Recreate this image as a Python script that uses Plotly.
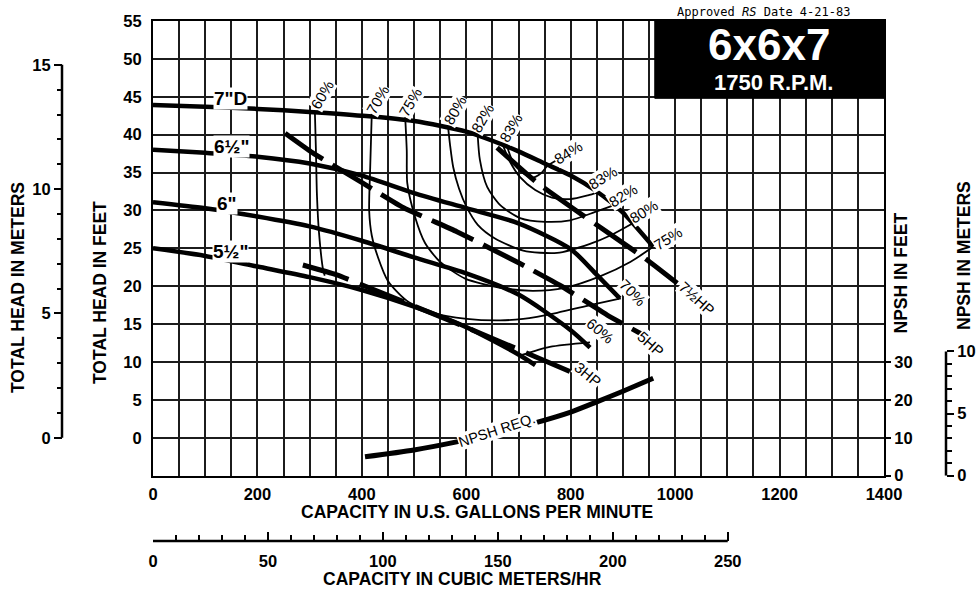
import plotly.graph_objects as go

# ---------------- data ----------------
GPM_PER_M3H = 4.402868
FT_PER_M = 3.28084

# impeller head curves: capacity (US gpm) vs total head (ft)
q_7d = [0, 100, 200, 300, 400, 500, 600, 650, 700, 750, 800, 850, 900, 958]
h_7d = [43.9, 43.7, 43.4, 43.0, 42.5, 41.8, 40.4, 39.2, 37.8, 36.2, 34.6, 32.5, 29.7, 25.2]
q_6h = [0, 100, 200, 300, 400, 500, 600, 700, 800, 850, 894]
h_6h = [38.0, 37.6, 37.1, 36.2, 34.6, 32.3, 30.3, 28.3, 24.9, 21.5, 18.4]
q_6 = [0, 100, 200, 300, 400, 500, 600, 700, 800, 837]
h_6 = [31.1, 30.3, 29.2, 27.9, 26.0, 23.8, 21.7, 18.9, 14.2, 11.9]
q_5h = [0, 100, 200, 300, 400, 500, 600, 700, 732]
h_5h = [25.0, 24.0, 22.6, 21.2, 19.5, 17.3, 14.6, 11.0, 9.6]

# efficiency contours
q_e60a = [310, 312, 314, 318, 326, 329]
h_e60a = [43.1, 38.0, 32.0, 27.0, 22.1, 21.4]
q_e60b = [705, 760, 837]
h_e60b = [10.9, 12.0, 12.6]
q_e70 = [419, 416, 414, 419, 431, 450, 486, 536, 601, 665, 709, 774, 837, 896]
h_e70 = [42.8, 35.7, 30.0, 26.7, 23.8, 20.7, 18.1, 16.5, 15.7, 15.5, 15.7, 16.5, 17.5, 18.4]
q_e75 = [483, 486, 487, 502, 521, 550, 598, 665, 728, 789, 856, 914, 958]
h_e75 = [42.3, 37.9, 33.6, 29.1, 25.7, 23.2, 21.0, 19.8, 19.4, 19.8, 21.3, 23.2, 25.2]
q_e80 = [565, 569, 575, 586, 601, 622, 655, 709, 774, 837, 879, 919]
h_e80 = [41.1, 38.6, 35.7, 32.9, 30.4, 28.1, 26.3, 24.7, 24.4, 25.6, 26.8, 28.3]
q_e82 = [622, 626, 640, 665, 703, 751, 799, 847, 883]
h_e82 = [39.8, 36.7, 33.1, 30.7, 29.0, 28.5, 28.7, 29.8, 30.7]
q_e83 = [670, 684, 703, 732, 764, 799, 833, 852]
h_e83 = [38.6, 36.4, 34.4, 32.7, 31.7, 31.5, 32.0, 32.4]
q_e84 = [678, 688, 705, 726, 743, 755]
h_e84 = [38.5, 36.6, 35.1, 34.3, 34.9, 35.9]
q_lead84 = [755, 772]
h_lead84 = [35.9, 36.6]

# brake horsepower lines
q_3hp = [287, 352, 439, 620, 824]
h_3hp = [22.8, 21.5, 19.1, 14.0, 8.0]
q_5hp = [253, 306, 402, 479, 582, 703, 780, 870, 946]
h_5hp = [40.2, 37.6, 33.6, 30.4, 27.2, 23.0, 20.1, 16.2, 13.3]
q_7hp = [659, 735, 837, 942, 1004]
h_7hp = [38.3, 33.7, 28.7, 23.7, 20.4]

# NPSH required (ft)
q_npsh = [406, 500, 584, 650, 728, 800, 850, 900, 958]
npsh_ft = [5.0, 6.8, 9.0, 11.0, 13.8, 16.8, 19.5, 22.3, 25.7]

# axis ticks
gpm_ticks = list(range(0, 1401, 200))
ft_ticks = list(range(0, 56, 5))
m_ticks = [0, 5, 10, 15]
m_minor = [v for v in range(1, 15) if v % 5]
npsh_ft_ticks = [0, 10, 20, 30]
npsh_m_ticks = [0, 5, 10]
npsh_m_minor = [v for v in range(1, 10) if v != 5]
m3h_ticks = list(range(0, 251, 50))
m3h_minor = [v for v in range(10, 250, 10) if v % 50]

# ---------------- layout geometry ----------------
W, H = 976, 592
ML, MR, MT, MB = 10, 10, 21, 10
PW, PH = W - ML - MR, H - MT - MB


def px(xp):
    return (xp - ML) / PW


def py(yp):
    return (H - MB - yp) / PH


XD = [px(153), px(884)]
YD = [py(475.7), 1.0]
GRID = '#1c1c1c'
FONT = 'Liberation Sans, Arial, sans-serif'

fig = go.Figure()


def line(q, h, width, dash=None, yaxis='y', smooth=0.7):
    fig.add_trace(go.Scatter(
        x=q, y=h, mode='lines', yaxis=yaxis, hoverinfo='skip',
        line=dict(color='black', width=width, dash=dash, shape='spline', smoothing=smooth)))


for q, h in [(q_e60a, h_e60a), (q_e60b, h_e60b), (q_e70, h_e70), (q_e75, h_e75),
             (q_e80, h_e80), (q_e82, h_e82), (q_e83, h_e83), (q_e84, h_e84),
             (q_lead84, h_lead84)]:
    line(q, h, 1.8)
for q, h in [(q_7d, h_7d), (q_6h, h_6h), (q_6, h_6), (q_5h, h_5h)]:
    line(q, h, 4.5)
line(q_3hp, h_3hp, 5, dash='48px,12px', smooth=0.4)
line(q_5hp, h_5hp, 5, dash='46px,11px', smooth=0.4)
line(q_7hp, h_7hp, 5, dash='50px,12px', smooth=0.4)
line(q_npsh, npsh_ft, 5, yaxis='y2')

ann = []


def lab(x, y, text, size=15, angle=0, bold=False, color='black', bg='white', xref='x', yref='y'):
    f = dict(family=FONT, size=size, color=color)
    if bold:
        f['weight'] = 'bold'
    ann.append(dict(x=x, y=y, xref=xref, yref=yref, text=text, showarrow=False,
                    textangle=angle, font=f, bgcolor=bg, borderpad=0,
                    xanchor='center', yanchor='middle'))


# impeller diameter labels
lab(149, 44.8, '7"D', 19, bold=True)
lab(151, 38.5, '6½"', 19, bold=True)
lab(142, 30.9, '6"', 19, bold=True)
lab(148, 24.6, '5½"', 19, bold=True)
# efficiency labels along the top
for x, y, t in [(324, 45.3, '60%'), (431, 44.6, '70%'), (492, 44.3, '75%'),
                (578, 43.2, '80%'), (630, 42.2, '82%'), (686, 40.9, '83%')]:
    lab(x, y, t, 15, angle=-60)
for x, y, t in [(795, 37.7, '84%'), (862, 34.3, '83%'), (900, 32.0, '82%'),
                (940, 29.8, '80%'), (986, 26.3, '75%')]:
    lab(x, y, t, 15, angle=-32)
lab(919, 19.2, '70%', 15, angle=45)
lab(856, 14.1, '60%', 15, angle=40)
lab(1042, 18.4, '7½HP', 15, angle=42)
lab(952, 12.4, '5HP', 15, angle=42)
lab(833, 8.3, '3HP', 15, angle=40)
lab(659, 1.0, 'NPSH REQ.', 14.5, angle=-18)

# title block
lab(1180, 51.9, '6x6x7', 44, bold=True, color='white', bg=None)
lab(1189, 46.9, '1750 R.P.M.', 22, bold=True, color='white', bg=None)
ann.append(dict(x=px(763), y=py(12), xref='paper', yref='paper', showarrow=False,
                text='Approved <i>RS</i> Date 4-21-83',
                font=dict(family='DejaVu Sans Mono', size=12, color='black'),
                xanchor='center', yanchor='middle'))

# axis titles
for xp, yp, t, ang in [(18, 288, 'TOTAL HEAD IN METERS', -90), (100, 293, 'TOTAL HEAD IN FEET', -90),
                       (900, 273.5, 'NPSH IN FEET', -90), (964, 256, 'NPSH IN METERS', -90),
                       (477, 512, 'CAPACITY IN U.S. GALLONS PER MINUTE', 0),
                       (462, 579, 'CAPACITY IN CUBIC METERS/HR', 0)]:
    ann.append(dict(x=px(xp), y=py(yp), xref='paper', yref='paper', showarrow=False, text=t,
                    textangle=ang, font=dict(family=FONT, size=17.5, weight='bold', color='black'),
                    xanchor='center', yanchor='middle'))

shapes = [
    dict(type='rect', xref='x', yref='y', x0=961, x1=1400, y0=44.8, y1=55,
         fillcolor='black', line=dict(color='black', width=1), layer='above'),
    dict(type='line', xref='paper', yref='y3', x0=px(62), x1=px(62), y0=0, y1=15,
         line=dict(color='black', width=2.5)),
    dict(type='line', xref='paper', yref='y4', x0=px(946), x1=px(946), y0=0, y1=10,
         line=dict(color='black', width=2.5)),
    dict(type='line', xref='x2', yref='paper', x0=0, x1=250, y0=py(541), y1=py(541),
         line=dict(color='black', width=2.5)),
]

tickf = dict(family=FONT, size=16.5, weight='bold', color='black')

fig.update_layout(
    width=W, height=H, margin=dict(l=ML, r=MR, t=MT, b=MB, autoexpand=False),
    paper_bgcolor='white', plot_bgcolor='white', showlegend=False,
    font=dict(family=FONT, color='black'),
    annotations=ann, shapes=shapes,
    xaxis=dict(domain=XD, range=[0, 1400], tickvals=gpm_ticks, ticks='',
               showgrid=True, gridcolor=GRID, gridwidth=1.5,
               minor=dict(dtick=50, tick0=0, showgrid=True, gridcolor=GRID, gridwidth=1.5),
               showline=True, linecolor='black', linewidth=2, mirror=True,
               zeroline=False, tickfont=tickf, ticklabelstandoff=2, fixedrange=True),
    yaxis=dict(domain=YD, range=[-5, 55], tickvals=ft_ticks, ticks='',
               showgrid=True, gridcolor=GRID, gridwidth=1.5,
               showline=True, linecolor='black', linewidth=2,
               zeroline=False, tickfont=tickf, ticklabelstandoff=6, fixedrange=True),
    yaxis2=dict(overlaying='y', side='right', anchor='x', range=[0, 120],
                tickvals=npsh_ft_ticks, ticks='outside', ticklen=5, tickwidth=2, tickcolor='black',
                showline=True, linecolor='black', linewidth=2, showgrid=False, zeroline=False,
                tickfont=tickf, fixedrange=True),
    yaxis3=dict(overlaying='y', anchor='free', position=px(62), side='left',
                range=[-5 / FT_PER_M, 55 / FT_PER_M], tickvals=m_ticks,
                ticks='outside', ticklen=8, tickwidth=2, tickcolor='black',
                minor=dict(tickmode='array', tickvals=m_minor, ticks='outside', ticklen=5,
                           tickwidth=2, tickcolor='black', showgrid=False),
                showline=False, showgrid=False, zeroline=False, tickfont=tickf, fixedrange=True),
    yaxis4=dict(overlaying='y', anchor='free', position=px(946), side='right',
                range=[0, 120 / FT_PER_M], tickvals=npsh_m_ticks,
                ticks='outside', ticklen=7, tickwidth=2, tickcolor='black',
                minor=dict(tickmode='array', tickvals=npsh_m_minor, ticks='outside', ticklen=5,
                           tickwidth=2, tickcolor='black', showgrid=False),
                showline=False, showgrid=False, zeroline=False, tickfont=tickf, fixedrange=True),
    xaxis2=dict(overlaying='x', anchor='free', position=py(541), side='bottom',
                range=[0, 1400 / GPM_PER_M3H], tickvals=m3h_ticks,
                ticks='inside', ticklen=9, tickwidth=2, tickcolor='black',
                minor=dict(tickmode='array', tickvals=m3h_minor, ticks='inside', ticklen=6,
                           tickwidth=2, tickcolor='black', showgrid=False),
                showline=False, showgrid=False, zeroline=False, tickfont=tickf,
                ticklabelstandoff=8, fixedrange=True),
)

# invisible traces so the extra axes are rendered
fig.add_trace(go.Scatter(x=[0], y=[0], yaxis='y3', mode='markers', marker=dict(opacity=0), hoverinfo='skip'))
fig.add_trace(go.Scatter(x=[0], y=[0], yaxis='y4', mode='markers', marker=dict(opacity=0), hoverinfo='skip'))
fig.add_trace(go.Scatter(x=[0], y=[0], xaxis='x2', mode='markers', marker=dict(opacity=0), hoverinfo='skip'))

fig.write_html('out.html', config={'displayModeBar': False},
               post_script="document.body.style.margin='0px';document.body.style.padding='0px';")
